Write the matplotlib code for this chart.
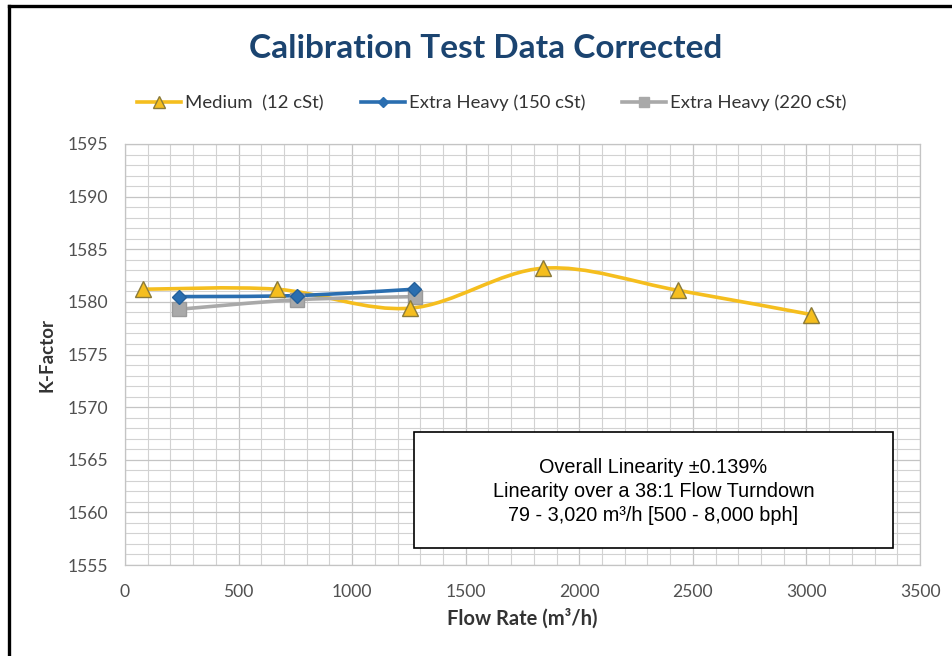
import matplotlib

matplotlib.use("Agg")
import matplotlib.pyplot as plt  # noqa: E402
from matplotlib.lines import Line2D  # noqa: E402
from matplotlib.patches import PathPatch, Rectangle  # noqa: E402
from matplotlib.path import Path  # noqa: E402
from matplotlib.ticker import MultipleLocator  # noqa: E402

# data
medium_x = [79, 668, 1255, 1842, 2434, 3020]
medium_k = [1581.2, 1581.2, 1579.4, 1583.2, 1581.1, 1578.8]

heavy150_x = [236, 756, 1272]
heavy150_k = [1580.5, 1580.6, 1581.2]

heavy220_x = [239, 756, 1277]
heavy220_k = [1579.3, 1580.2, 1580.5]

x_ticks = [0, 500, 1000, 1500, 2000, 2500, 3000, 3500]
y_ticks = [1555, 1560, 1565, 1570, 1575, 1580, 1585, 1590, 1595]

note_lines = [
    "Overall Linearity \u00b10.139%",
    "Linearity over a 38:1 Flow Turndown",
    "79 - 3,020 m\u00b3/h [500 - 8,000 bph]",
]

YELLOW = "#F5BE1E"
BLUE = "#2A6EB0"
GREY = "#A9A9A9"
TITLE_BLUE = "#1B4470"
TICK_GREY = "#505050"

plt.rcParams["font.family"] = ["Lato", "DejaVu Sans"]


def smooth_path(xs, ys):
    # Excel-style smoothed line as cubic bezier segments
    pts = list(zip(xs, ys))
    verts = [pts[0]]
    codes = [Path.MOVETO]
    n = len(pts)
    for i in range(n - 1):
        p0 = pts[i - 1] if i > 0 else pts[i]
        p1 = pts[i]
        p2 = pts[i + 1]
        p3 = pts[i + 2] if i + 2 < n else pts[i + 1]
        c1 = (p1[0] + (p2[0] - p0[0]) / 6, p1[1] + (p2[1] - p0[1]) / 6)
        c2 = (p2[0] - (p3[0] - p1[0]) / 6, p2[1] - (p3[1] - p1[1]) / 6)
        verts += [c1, c2, p2]
        codes += [Path.CURVE4] * 3
    return Path(verts, codes)


fig = plt.figure(figsize=(9.53, 6.56), dpi=100)
ax = fig.add_axes([0.1312, 0.1387, 0.8342, 0.6418])

ax.set_xlim(0, 3500)
ax.set_ylim(1555, 1595)
ax.set_xticks(x_ticks)
ax.set_yticks(y_ticks)
ax.xaxis.set_minor_locator(MultipleLocator(100))
ax.yaxis.set_minor_locator(MultipleLocator(1))
ax.grid(which="major", color="#C4C4C4", linewidth=0.9)
ax.grid(which="minor", color="#D2D2D2", linewidth=0.8)
ax.set_axisbelow(True)
ax.tick_params(which="both", length=0, labelsize=12.6, colors=TICK_GREY)
ax.tick_params(axis="x", pad=14)
ax.tick_params(axis="y", pad=12)
for name, sp in ax.spines.items():
    sp.set_color("#C4C4C4")
    sp.set_linewidth(0.9)

# smoothed lines
for xs, ys, col in [
    (medium_x, medium_k, YELLOW),
    (heavy220_x, heavy220_k, GREY),
    (heavy150_x, heavy150_k, BLUE),
]:
    ax.add_patch(PathPatch(smooth_path(xs, ys), facecolor="none", edgecolor=col,
                           linewidth=2.6, zorder=3, capstyle="round"))

ax.plot(heavy220_x, heavy220_k, linestyle="none", marker="s", markersize=10,
        color=GREY, markeredgecolor="#9A9A9A", zorder=4)
ax.plot(heavy150_x, heavy150_k, linestyle="none", marker="D", markersize=7,
        color=BLUE, markeredgecolor="#24609A", zorder=5)
ax.plot(medium_x, medium_k, linestyle="none", marker="^", markersize=11,
        color=YELLOW, markeredgecolor="#8A7A3A", markeredgewidth=1.0, zorder=6)

ax.set_xlabel("Flow Rate (m\u00b3/h)", fontsize=14.5, fontweight="bold", color="#333333",
              labelpad=6)
ax.set_ylabel("K-Factor", fontsize=13.5, fontweight="bold", color="#333333", labelpad=9)

# note box
box_x0, box_x1 = 0.3635, 0.966
box_y0, box_y1 = 0.0404, 0.316
ax.add_patch(Rectangle((box_x0, box_y0), box_x1 - box_x0, box_y1 - box_y0,
                       transform=ax.transAxes, facecolor="white", edgecolor="black",
                       linewidth=1.2, zorder=7))
ax.text((box_x0 + box_x1) / 2, (box_y0 + box_y1) / 2 - 0.004, "\n".join(note_lines),
        transform=ax.transAxes, ha="center", va="center", fontsize=14.3,
        family=["Liberation Sans", "DejaVu Sans"], linespacing=1.35, zorder=8)

fig.text(0.51, 0.926, "Calibration Test Data Corrected", ha="center", va="center",
         fontsize=24, fontweight="bold", color=TITLE_BLUE)

handles = [
    Line2D([], [], color=YELLOW, linewidth=2.6, marker="^", markersize=8,
           markeredgecolor="#8A7A3A", markerfacecolor=YELLOW),
    Line2D([], [], color=BLUE, linewidth=2.6, marker="D", markersize=5),
    Line2D([], [], color=GREY, linewidth=2.6, marker="s", markersize=7),
]
labels = ["Medium  (12 cSt)", "Extra Heavy (150 cSt)", "Extra Heavy (220 cSt)"]
fig.legend(handles, labels, loc="center", bbox_to_anchor=(0.516, 0.843), ncol=3,
           frameon=False, fontsize=13.3, handlelength=2.4, handletextpad=0.2,
           columnspacing=2.0, labelcolor="#333333")

# outer frame (cropped on right and bottom)
fig.add_artist(Line2D([0.0094, 0.0094], [0, 0.991], color="black", linewidth=2.4,
                      transform=fig.transFigure))
fig.add_artist(Line2D([0.0094, 1.0], [0.991, 0.991], color="black", linewidth=2.4,
                      transform=fig.transFigure))

fig.savefig("out.png", dpi=100, facecolor="white")
